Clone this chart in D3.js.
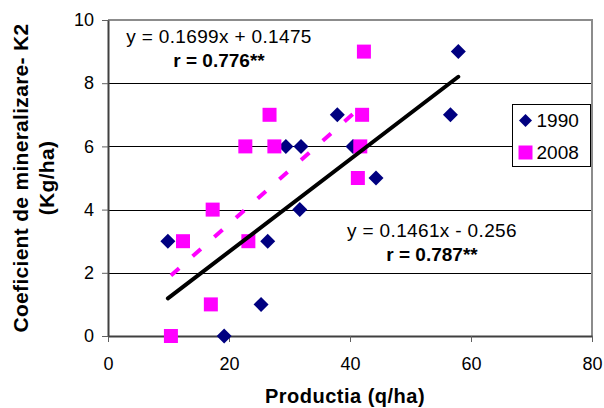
<!DOCTYPE html>
<html>
<head>
<meta charset="utf-8">
<script src="https://cdn.jsdelivr.net/npm/d3@7"></script>
<style>
	body { margin: 0; background: #fff; }
	text { font-family: "Liberation Sans", Arial, sans-serif; fill: #000; }
</style>
</head>
<body>
<div id="chart"></div>
<script>
// values
var x1990 = [9.9, 19.2, 25.3, 26.4, 31.7, 29.4, 31.9, 37.9, 40.5, 44.3, 56.6, 57.9];
var y1990 = [3, 0, 1, 3, 4, 6, 6, 7, 6, 5, 7, 9];
var x2008 = [10.4, 12.4, 17, 17.3, 23.2, 22.7, 26.7, 27.5, 42.3, 42, 41.7, 41.3];
var y2008 = [0, 3, 1, 4, 3, 6, 7, 6, 9, 7, 6, 5];

// linear trendlines as printed on the chart
var trend1990 = { slope: 0.1461, intercept: -0.256, label: "y = 0.1461x - 0.256", r: "0.787**" };
var trend2008 = { slope: 0.1699, intercept: 0.1475, label: "y = 0.1699x + 0.1475", r: "0.776**" };

var seriesNames = ["1990", "2008"];
var xTicks = [0, 20, 40, 60, 80];
var yTicks = [0, 2, 4, 6, 8, 10];

var fullWidth = 604,
	fullHeight = 408;

var margin = {top: 20, right: 12, bottom: 72, left: 108},
	width = fullWidth - margin.left - margin.right,
	height = fullHeight - margin.top - margin.bottom;

var colors = {"1990": "#000080", "2008": "#ff00ff"};

var xScale = d3.scaleLinear().domain([0, 80]).range([0, width]);
var yScale = d3.scaleLinear().domain([0, 10]).range([height, 0]);

var svg = d3.select("#chart").append("svg")
	.attr("width", fullWidth)
	.attr("height", fullHeight);

var g = svg.append("g")
	.attr("transform", "translate(" + margin.left + "," + margin.top + ")");

// horizontal gridlines
g.append("g")
	.selectAll("line")
	.data(yTicks.filter(function(d) { return d > 0 && d < 10; }))
	.enter().append("line")
	.attr("x1", 0)
	.attr("x2", width)
	.attr("y1", function(d) { return Math.round(yScale(d)) + 0.5; })
	.attr("y2", function(d) { return Math.round(yScale(d)) + 0.5; })
	.attr("stroke", "#000")
	.attr("stroke-width", 1);

// plot frame (top and right)
g.append("path")
	.attr("d", "M0," + yScale(10) + "H" + width + "V" + height)
	.attr("fill", "none")
	.attr("stroke", "#8c8c8c")
	.attr("stroke-width", 2);

// axes
var xAxis = d3.axisBottom(xScale).tickValues(xTicks).tickSize(6).tickPadding(15).tickSizeOuter(0);
var yAxis = d3.axisLeft(yScale).tickValues(yTicks).tickSize(6).tickPadding(8).tickSizeOuter(0);

var gx = g.append("g")
	.attr("transform", "translate(0," + height + ")")
	.call(xAxis);

var gy = g.append("g")
	.call(yAxis);

[gx, gy].forEach(function(a) {
	a.select(".domain").attr("stroke", "#404040").attr("stroke-width", 2);
	a.selectAll(".tick line").attr("stroke", "#606060");
	a.selectAll(".tick text")
		.style("font-family", "'Liberation Sans', Arial, sans-serif")
		.style("font-size", "18px")
		.attr("fill", "#000");
});

// markers
var diamond = function(s) {
	return "M0," + (-s) + "L" + s + ",0L0," + s + "L" + (-s) + ",0Z";
};

g.append("g")
	.selectAll("path")
	.data(x1990.map(function(x, i) { return {x: x, y: y1990[i]}; }))
	.enter().append("path")
	.attr("d", diamond(7.5))
	.attr("transform", function(d) { return "translate(" + xScale(d.x) + "," + yScale(d.y) + ")"; })
	.attr("fill", colors["1990"]);

g.append("g")
	.selectAll("path")
	.data(x2008.map(function(x, i) { return {x: x, y: y2008[i]}; }))
	.enter().append("path")
	.attr("d", d3.symbol(d3.symbolSquare, 14 * 14))
	.attr("transform", function(d) { return "translate(" + xScale(d.x) + "," + yScale(d.y) + ")"; })
	.attr("fill", colors["2008"]);

// trendlines over the data range of each series
var line = d3.line()
	.x(function(d) { return xScale(d); });

function trendPath(xs, t) {
	return line.y(function(d) { return yScale(t.slope * d + t.intercept); })(d3.extent(xs));
}

g.append("path")
	.attr("d", trendPath(x1990, trend1990))
	.attr("fill", "none")
	.attr("stroke", "#000")
	.attr("stroke-width", 4)
	.attr("stroke-linecap", "round");

g.append("path")
	.attr("d", trendPath(x2008, trend2008))
	.attr("fill", "none")
	.attr("stroke", colors["2008"])
	.attr("stroke-width", 4)
	.attr("stroke-dasharray", "11,18");

// equation labels
function eqLabel(cx, by, t) {
	var lab = svg.append("g");
	lab.append("text")
		.attr("x", cx)
		.attr("y", by)
		.attr("text-anchor", "middle")
		.style("font-size", "19px")
		.style("letter-spacing", "0.35px")
		.text(t.label);
	lab.append("text")
		.attr("x", cx)
		.attr("y", by + 24)
		.attr("text-anchor", "middle")
		.style("font-size", "19px")
		.style("font-weight", "bold")
		.text("r = " + t.r);
}
eqLabel(219, 43, trend2008);
eqLabel(432, 237, trend1990);

// legend
var legend = svg.append("g")
	.attr("transform", "translate(512.5,104.5)");

legend.append("rect")
	.attr("width", 78)
	.attr("height", 62)
	.attr("fill", "#fff")
	.attr("stroke", "#000")
	.attr("stroke-width", 1);

legend.append("path")
	.attr("d", diamond(6.5))
	.attr("transform", "translate(13,16)")
	.attr("fill", colors["1990"]);

legend.append("path")
	.attr("d", d3.symbol(d3.symbolSquare, 14 * 14))
	.attr("transform", "translate(13,48)")
	.attr("fill", colors["2008"]);

legend.selectAll("text")
	.data(seriesNames)
	.enter().append("text")
	.attr("x", 24)
	.attr("y", function(d, i) { return 22 + i * 32.5; })
	.style("font-size", "19px")
	.text(function(d) { return d; });

// axis titles
svg.append("text")
	.attr("x", margin.left + width / 2 - 5)
	.attr("y", 403)
	.attr("text-anchor", "middle")
	.style("font-size", "20px")
	.style("font-weight", "bold")
	.style("letter-spacing", "0.5px")
	.text("Productia (q/ha)");

var yTitle = svg.append("text")
	.attr("transform", "translate(28," + (margin.top + height / 2) + ") rotate(-90)")
	.attr("text-anchor", "middle")
	.style("font-size", "21px")
	.style("font-weight", "bold")
	.style("letter-spacing", "0.3px");

yTitle.append("tspan")
	.attr("x", 0)
	.attr("y", 0)
	.text("Coeficient de mineralizare- K2");

yTitle.append("tspan")
	.attr("x", 0)
	.attr("y", 26)
	.text("(Kg/ha)");
</script>
</body>
</html>
